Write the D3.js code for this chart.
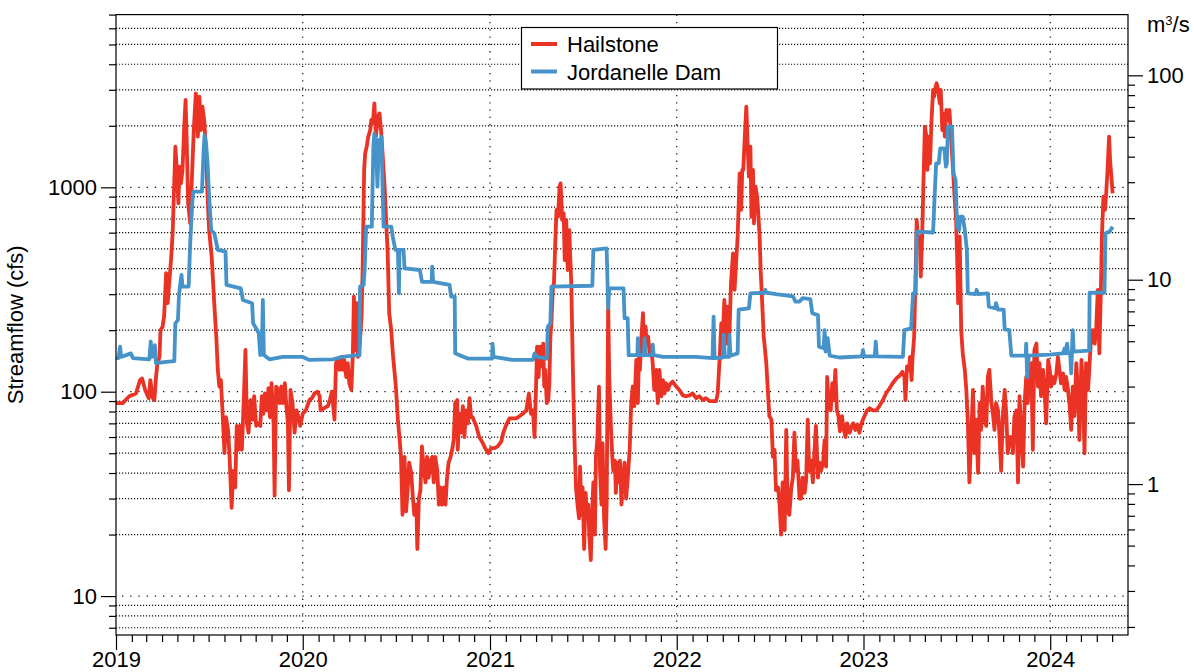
<!DOCTYPE html>
<html>
<head>
<meta charset="utf-8">
<script src="https://cdn.jsdelivr.net/npm/d3@7"></script>
<style>
  body { margin: 0; background: #fff; }
  svg { display: block; font-family: "Liberation Sans", Arial, Helvetica, sans-serif; }
</style>
</head>
<body>
<svg id="chart" width="1194" height="672"></svg>
<script>
//Data: [days since recordStart, streamflow in cfs]
const recordStart = '2019-01-01';
const axisEnd = '2024-06-01';
const seriesNames = ['Hailstone', 'Jordanelle Dam'];

const hailstoneFlow = [
  [0,88],[13,88],[26,95],[39,98],[47,114],[51,116],[57,102],[64,93],[67,114],[72,93],
  [75,91],[78,116],[81,138],[85,148],[87,200],[91,208],[94,233],[98,380],[101,271],[104,339],
  [108,458],[111,618],[114,1086],[116,1581],[119,1216],[122,835],[124,1262],[127,1046],[130,1216],[133,1907],
  [136,2675],[138,1770],[141,835],[145,666],[149,1216],[152,1907],[156,2880],[160,1770],[163,2777],[166,1907],
  [169,2481],[173,2056],[176,1467],[179,900],[182,618],[187,458],[192,271],[196,186],[199,128],[202,106],
  [205,114],[209,73],[212,50],[215,75],[219,65],[222,48],[226,27],[229,41],[233,34],[236,68],
  [239,52],[242,68],[246,52],[250,95],[253,160],[256,70],[259,63],[263,91],[267,73],[270,95],
  [274,68],[278,70],[282,68],[285,95],[288,78],[291,98],[295,81],[298,104],[301,75],[304,110],
  [308,70],[310,31],[313,106],[317,102],[320,88],[323,106],[326,88],[330,110],[333,85],[336,70],
  [338,33],[341,102],[345,88],[349,63],[353,81],[356,76],[360,68],[365,78],[371,81],[378,91],
  [383,93],[388,98],[394,100],[398,95],[400,81],[407,83],[414,85],[418,91],[422,100],[427,73],
  [430,138],[433,143],[437,128],[440,148],[443,128],[446,143],[450,118],[453,138],[456,110],[460,102],
  [463,154],[465,292],[468,160],[471,271],[473,148],[476,166],[480,233],[482,394],[485,1216],[487,1467],
  [490,1581],[493,1770],[497,1907],[499,2135],[502,2056],[505,2577],[508,1770],[512,2216],[515,2301],[518,1907],
  [521,1467],[525,1008],[528,692],[531,475],[534,242],[538,200],[541,154],[544,128],[547,106],[551,73],
  [554,60],[557,48],[560,25],[564,48],[567,26],[570,33],[573,45],[577,40],[580,31],[583,25],
  [587,28],[589,17],[592,30],[595,33],[598,54],[602,41],[605,36],[608,48],[611,38],[615,46],
  [618,48],[621,36],[624,48],[628,41],[631,28],[634,34],[637,28],[641,34],[644,28],[647,38],
  [650,45],[654,48],[657,52],[660,58],[663,88],[667,91],[668,52],[671,78],[674,63],[678,85],
  [681,60],[684,81],[688,70],[691,93],[694,75],[697,75],[704,68],[710,60],[717,56],[723,52],
  [728,50],[733,53],[740,53],[746,54],[753,57],[757,63],[762,68],[769,74],[775,74],[782,74],
  [789,76],[795,78],[802,81],[807,98],[811,78],[815,81],[818,60],[821,106],[823,166],[826,118],
  [829,166],[832,133],[835,172],[837,106],[839,128],[842,88],[845,91],[847,110],[849,186],[851,216],
  [854,327],[856,339],[859,573],[861,775],[864,718],[867,1008],[869,1046],[872,692],[875,746],[877,441],
  [880,692],[883,394],[886,618],[890,327],[893,128],[896,60],[899,34],[902,28],[905,24],[907,43],
  [910,25],[912,34],[915,17],[918,32],[920,24],[923,28],[925,20],[928,15],[931,27],[933,36],
  [936,20],[938,48],[941,60],[944,106],[946,41],[949,28],[951,56],[954,24],[957,17],[959,28],
  [962,271],[964,118],[967,70],[970,48],[972,41],[975,46],[977,32],[980,45],[983,36],[985,46],
  [988,28],[990,36],[994,45],[997,30],[1000,37],[1004,52],[1007,88],[1010,106],[1013,85],[1017,143],
  [1020,88],[1022,148],[1024,128],[1027,186],[1030,242],[1032,166],[1035,208],[1037,172],[1040,186],[1043,154],
  [1046,166],[1049,138],[1052,102],[1056,128],[1059,88],[1062,128],[1066,95],[1069,114],[1072,98],[1075,110],
  [1079,102],[1082,108],[1088,112],[1095,106],[1101,102],[1108,96],[1114,95],[1121,96],[1127,98],[1134,93],
  [1140,95],[1147,91],[1153,93],[1160,90],[1166,90],[1173,90],[1176,98],[1180,148],[1183,216],[1186,186],
  [1189,281],[1193,172],[1196,261],[1199,193],[1202,339],[1206,475],[1209,315],[1212,425],[1215,573],[1219,1171],
  [1222,775],[1224,1216],[1226,1216],[1229,1770],[1232,2481],[1234,1770],[1237,1128],[1240,1581],[1242,718],[1245,1216],
  [1247,666],[1250,1008],[1253,900],[1255,775],[1258,573],[1260,394],[1263,271],[1266,186],[1268,166],[1271,138],
  [1274,102],[1277,76],[1281,73],[1284,48],[1287,52],[1290,33],[1294,34],[1297,28],[1300,20],[1303,36],
  [1307,21],[1310,65],[1313,26],[1316,25],[1320,34],[1323,38],[1326,63],[1329,41],[1332,46],[1336,30],
  [1339,30],[1342,38],[1346,32],[1349,37],[1352,73],[1355,41],[1359,46],[1362,36],[1365,50],[1368,68],
  [1372,38],[1375,45],[1378,41],[1382,45],[1385,58],[1388,43],[1390,118],[1393,88],[1397,81],[1400,110],
  [1403,91],[1406,128],[1409,81],[1412,76],[1415,64],[1419,76],[1422,66],[1426,60],[1429,70],[1434,63],
  [1438,68],[1441,70],[1445,65],[1449,69],[1453,63],[1457,70],[1463,76],[1468,81],[1473,83],[1479,81],
  [1486,81],[1492,85],[1499,91],[1505,98],[1512,104],[1518,110],[1525,116],[1532,120],[1537,125],[1541,118],
  [1543,91],[1546,133],[1550,128],[1552,148],[1555,114],[1557,148],[1560,186],[1563,394],[1565,692],[1568,532],
  [1571,573],[1573,366],[1576,618],[1578,1008],[1581,1980],[1584,1770],[1586,1216],[1589,1770],[1591,1310],[1594,2135],
  [1597,2994],[1599,2777],[1602,3108],[1604,3228],[1607,2994],[1610,2577],[1612,2994],[1615,1907],[1617,2301],[1620,1770],
  [1623,2389],[1626,2135],[1629,2389],[1632,1770],[1636,1216],[1639,900],[1642,692],[1644,458],[1646,271],[1649,573],
  [1652,200],[1655,154],[1659,128],[1662,102],[1665,70],[1668,36],[1672,65],[1675,102],[1678,50],[1681,73],
  [1685,40],[1688,88],[1691,65],[1694,106],[1698,73],[1701,68],[1704,118],[1707,128],[1711,88],[1714,78],
  [1717,65],[1720,88],[1724,81],[1727,60],[1730,41],[1733,73],[1737,102],[1740,78],[1743,50],[1746,60],
  [1750,60],[1753,50],[1756,76],[1760,81],[1763,36],[1766,95],[1769,65],[1773,43],[1776,88],[1779,118],
  [1782,88],[1786,128],[1789,138],[1792,52],[1795,160],[1799,172],[1802,106],[1805,138],[1808,95],[1812,128],
  [1815,102],[1818,70],[1822,143],[1825,128],[1828,106],[1831,118],[1834,110],[1838,123],[1841,148],[1844,128],
  [1847,110],[1851,123],[1854,102],[1857,118],[1860,106],[1864,85],[1867,65],[1870,106],[1873,76],[1877,138],
  [1880,102],[1883,58],[1887,143],[1890,102],[1893,50],[1896,138],[1900,102],[1903,138],[1906,186],[1909,200],
  [1913,172],[1916,208],[1919,315],[1922,154],[1925,315],[1927,573],[1930,900],[1933,775],[1935,900],[1938,1216],
  [1941,1770],[1943,1360],[1946,1086],[1948,935]
];

const jordanelleFlow = [
  [0,146],[5,146],[8,166],[10,148],[20,151],[29,154],[33,146],[65,144],[68,176],[70,148],
  [74,150],[76,169],[78,138],[98,140],[114,141],[116,216],[121,224],[123,292],[125,327],[128,373],
  [130,327],[142,327],[145,532],[149,835],[151,952],[168,952],[171,1467],[173,1800],[176,1640],[179,1310],
  [182,900],[186,618],[192,596],[199,494],[214,485],[216,333],[244,320],[248,281],[266,271],[268,216],
  [274,204],[279,193],[282,151],[285,154],[287,281],[289,151],[300,144],[326,148],[365,148],[378,143],
  [424,144],[443,148],[472,151],[476,151],[477,327],[484,333],[486,394],[489,642],[500,642],[503,1581],
  [505,1837],[508,1705],[511,1008],[514,1705],[516,1467],[519,1770],[521,1008],[523,642],[538,642],[541,573],
  [546,494],[551,494],[553,303],[554,494],[562,494],[564,401],[594,394],[598,345],[617,345],[618,409],
  [620,345],[652,333],[655,292],[662,292],[663,154],[671,151],[689,145],[735,145],[736,172],[738,148],
  [775,143],[815,143],[818,154],[824,148],[842,145],[844,208],[849,216],[851,327],[931,330],[933,494],
  [959,503],[962,256],[964,320],[992,320],[994,229],[1000,229],[1002,151],[1019,151],[1020,183],[1022,151],
  [1032,151],[1033,183],[1035,151],[1048,151],[1049,170],[1051,151],[1069,148],[1134,148],[1166,146],[1168,233],
  [1170,146],[1186,147],[1188,190],[1190,148],[1198,148],[1199,190],[1201,150],[1215,154],[1217,252],[1237,256],
  [1240,303],[1267,305],[1269,315],[1271,305],[1290,300],[1323,293],[1328,276],[1336,276],[1342,287],[1357,284],
  [1361,242],[1372,237],[1374,166],[1383,163],[1385,200],[1387,157],[1389,163],[1391,183],[1395,150],[1414,147],
  [1458,149],[1460,160],[1462,149],[1483,149],[1485,176],[1487,149],[1538,148],[1541,200],[1554,204],[1558,303],
  [1563,303],[1565,607],[1597,601],[1600,900],[1603,1310],[1608,1310],[1611,1550],[1619,1550],[1622,1262],[1624,1310],
  [1626,1980],[1634,1980],[1637,1171],[1641,1086],[1644,642],[1648,618],[1650,718],[1655,718],[1659,618],[1663,494],
  [1665,303],[1680,300],[1682,315],[1685,300],[1704,303],[1706,261],[1718,256],[1720,271],[1724,252],[1735,252],
  [1737,202],[1746,200],[1750,150],[1778,150],[1779,172],[1781,118],[1784,150],[1825,152],[1851,154],[1854,163],
  [1856,154],[1859,172],[1861,154],[1865,154],[1867,123],[1870,200],[1872,157],[1902,159],[1903,305],[1932,305],
  [1934,596],[1942,607],[1948,642]
];

const yearTicks = [2019, 2020, 2021, 2022, 2023, 2024];
const cfsLabelTicks = [10, 100, 1000];
const cmsLabelTicks = [1, 10, 100];
const cfsDomain = [6.45, 7000];
const cfsToCms = 0.0283168;

//Layout
const plotLeft = 116;
const plotRight = 1128;
const plotTop = 14.6;
const plotBottom = 635;
const colors = ['#ea3324', '#4593c8'];
const fontSize = 22;

const svg = d3.select('#chart');
const parseDay = d3.timeParse('%Y-%m-%d');
const t0 = parseDay(recordStart);
const t1 = parseDay(axisEnd);
const toDate = d => d3.timeDay.offset(t0, d);

const x = d3.scaleTime().domain([t0, t1]).range([plotLeft, plotRight]);
const y = d3.scaleLog().domain(cfsDomain).range([plotBottom, plotTop]);
const yR = d3
  .scaleLog()
  .domain(cfsDomain.map(v => v * cfsToCms))
  .range([plotBottom, plotTop]);

const cfsTicks = y.ticks();
const cmsTicks = yR.ticks();

//Grid
const grid = svg.append('g').attr('stroke', '#111').attr('stroke-width', 1.2);
grid
  .selectAll('line.h')
  .data(cfsTicks.filter(v => y(v) > plotTop + 1))
  .enter()
  .append('line')
  .attr('class', 'h')
  .attr('x1', plotLeft)
  .attr('x2', plotRight)
  .attr('y1', d => y(d))
  .attr('y2', d => y(d))
  .attr('stroke-dasharray', d => (cfsLabelTicks.includes(d) ? '1.3,6.9' : '1.2,1.8'))
  .attr('stroke-dashoffset', d => (cfsLabelTicks.includes(d) ? -6 : 0));

grid
  .selectAll('line.v')
  .data(yearTicks.slice(1).map(yr => new Date(yr, 0, 1)))
  .enter()
  .append('line')
  .attr('class', 'v')
  .attr('x1', d => x(d))
  .attr('x2', d => x(d))
  .attr('y1', plotTop)
  .attr('y2', plotBottom)
  .attr('stroke-dasharray', '1.3,6');

//Streamflow lines
const line = d3
  .line()
  .x(d => x(toDate(d[0])))
  .y(d => y(d[1]));

[hailstoneFlow, jordanelleFlow].forEach((series, i) => {
  svg
    .append('path')
    .datum(series)
    .attr('d', line)
    .attr('fill', 'none')
    .attr('stroke', colors[i])
    .attr('stroke-width', 3.8)
    .attr('stroke-linejoin', 'round');
});

//Frame
svg
  .append('rect')
  .attr('x', plotLeft)
  .attr('y', plotTop)
  .attr('width', plotRight - plotLeft)
  .attr('height', plotBottom - plotTop)
  .attr('fill', 'none')
  .attr('stroke', '#000')
  .attr('stroke-width', 1.2);

//Axes
const styleAxis = g => {
  g.select('.domain').remove();
  g.selectAll('line').attr('stroke', '#000').attr('stroke-width', 1.2);
  g.selectAll('text')
    .attr('font-size', fontSize)
    .attr('font-family', '"Liberation Sans", Arial, sans-serif')
    .attr('fill', '#000');
};

svg
  .append('g')
  .attr('transform', `translate(${plotLeft},0)`)
  .call(
    d3
      .axisLeft(y)
      .tickValues(cfsTicks.filter(v => !cfsLabelTicks.includes(v)))
      .tickSize(7)
      .tickFormat('')
  )
  .call(styleAxis);

svg
  .append('g')
  .attr('transform', `translate(${plotLeft},0)`)
  .call(
    d3
      .axisLeft(y)
      .tickValues(cfsLabelTicks)
      .tickSize(15)
      .tickPadding(4)
      .tickFormat(d3.format('d'))
  )
  .call(styleAxis);

svg
  .append('g')
  .attr('transform', `translate(${plotRight},0)`)
  .call(
    d3
      .axisRight(yR)
      .tickValues(cmsTicks.filter(v => !cmsLabelTicks.some(c => Math.abs(c - v) < 1e-9)))
      .tickSize(7)
      .tickFormat('')
  )
  .call(styleAxis);

svg
  .append('g')
  .attr('transform', `translate(${plotRight},0)`)
  .call(
    d3
      .axisRight(yR)
      .tickValues(cmsLabelTicks)
      .tickSize(15)
      .tickPadding(4)
      .tickFormat(d3.format('d'))
  )
  .call(styleAxis);

svg
  .append('g')
  .attr('transform', `translate(0,${plotBottom})`)
  .call(
    d3
      .axisBottom(x)
      .tickValues(d3.timeMonth.range(t0, t1).filter(d => d.getMonth() !== 0))
      .tickSize(7)
      .tickFormat('')
  )
  .call(styleAxis);

svg
  .append('g')
  .attr('transform', `translate(0,${plotBottom})`)
  .call(
    d3
      .axisBottom(x)
      .tickValues(yearTicks.map(yr => new Date(yr, 0, 1)))
      .tickSize(15)
      .tickPadding(1)
      .tickFormat(d3.timeFormat('%Y'))
  )
  .call(styleAxis);

//Axis titles
svg
  .append('text')
  .attr('transform', `translate(23,${(plotTop + plotBottom) / 2}) rotate(-90)`)
  .attr('text-anchor', 'middle')
  .attr('font-size', fontSize)
  .text('Streamflow (cfs)');

const unit = svg
  .append('text')
  .attr('x', 1147)
  .attr('y', 32)
  .attr('font-size', fontSize);
unit.append('tspan').text('m');
unit.append('tspan').attr('dy', -7).attr('font-size', 13).text('3');
unit.append('tspan').attr('dy', 7).text('/s');

//Legend
const legend = svg.append('g');
legend
  .append('rect')
  .attr('x', 521.5)
  .attr('y', 27.5)
  .attr('width', 256)
  .attr('height', 61.5)
  .attr('fill', '#fff')
  .attr('stroke', '#000')
  .attr('stroke-width', 1.2);

seriesNames.forEach((name, i) => {
  const ly = 44 + i * 27.5;
  legend
    .append('line')
    .attr('x1', 531)
    .attr('x2', 557)
    .attr('y1', ly)
    .attr('y2', ly)
    .attr('stroke', colors[i])
    .attr('stroke-width', 4);
  legend
    .append('text')
    .attr('x', 567)
    .attr('y', ly + 8)
    .attr('font-size', fontSize)
    .text(name);
});
</script>
</body>
</html>
